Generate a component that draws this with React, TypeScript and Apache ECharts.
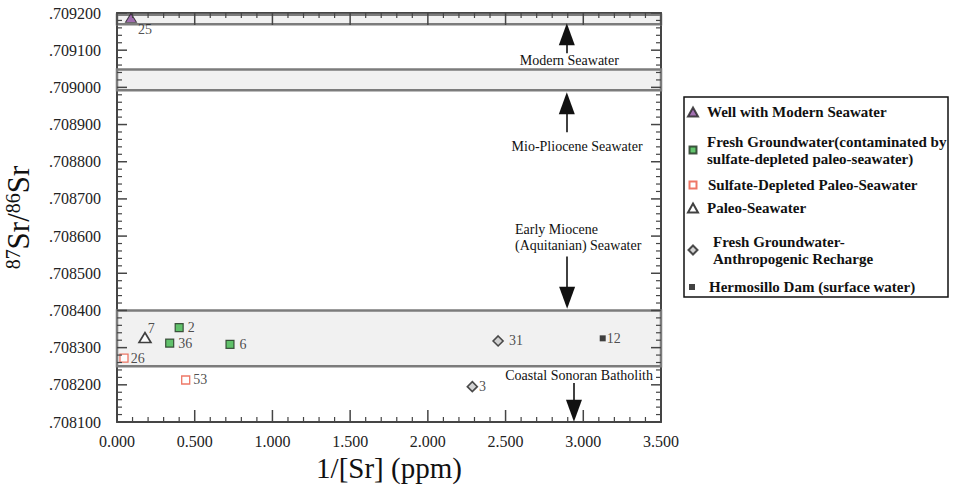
import React, { useEffect, useRef } from 'react';
import * as echarts from 'echarts';

const FONT = 'Liberation Serif';

// ---- Data ----
const wellX = [0.09];
const wellY = [0.709187];
const wellIds = ['25'];

const freshX = [0.4, 0.339, 0.727];
const freshY = [0.708354, 0.708312, 0.708309];
const freshIds = ['2', '36', '6'];

const sulfX = [0.045, 0.442];
const sulfY = [0.708272, 0.708213];
const sulfIds = ['26', '53'];

const paleoX = [0.18];
const paleoY = [0.708327];
const paleoIds = ['7'];

const anthX = [2.452, 2.286];
const anthY = [0.708318, 0.708195];
const anthIds = ['31', '3'];

const damX = [3.125];
const damY = [0.708325];
const damIds = ['12'];

// Reference bands (87Sr/86Sr ranges)
const bandLow = [0.70917, 0.708992, 0.70825];
const bandHigh = [0.709195, 0.709048, 0.7084];

// Annotation arrows (x, from y, to y)
const arrowX = [2.894, 2.894, 2.896, 2.94];
const arrowFrom = [0.709092, 0.708879, 0.708545, 0.708205];
const arrowTo = [0.709143, 0.708957, 0.708434, 0.70813];

// Annotation texts
const noteText = ['Modern Seawater', 'Mio-Pliocene Seawater', 'Early Miocene\n(Aquitanian) Seawater', 'Coastal Sonoran Batholith'];
const noteX = [2.91, 2.96, 2.561, 2.973];
const noteY = [0.709071, 0.708842, 0.708596, 0.708224];
const noteAlign = ['center', 'center', 'left', 'center'];

const seriesNames = [
  'Well with Modern Seawater',
  'Fresh Groundwater(contaminated by sulfate-depleted paleo-seawater)',
  'Sulfate-Depleted Paleo-Seawater',
  'Paleo-Seawater',
  'Fresh Groundwater-Anthropogenic Recharge',
  'Hermosillo Dam (surface water)',
];
const legendLines: Record<string, string> = {
  'Fresh Groundwater(contaminated by sulfate-depleted paleo-seawater)': 'Fresh Groundwater(contaminated by\nsulfate-depleted paleo-seawater)',
  'Fresh Groundwater-Anthropogenic Recharge': 'Fresh Groundwater-\nAnthropogenic Recharge',
};

// label placement styles per sample id
const labelPlace: Record<string, any> = {
  '25': { position: 'right', distance: 1, offset: [0, 12] },
  '7': { position: 'right', distance: 0, offset: [-4, -9] },
  '2': { position: 'right', distance: 4 },
  '36': { position: 'right', distance: 4 },
  '6': { position: 'right', distance: 5 },
  '26': { position: 'right', distance: 2 },
  '53': { position: 'right', distance: 3 },
  '31': { position: 'right', distance: 5 },
  '3': { position: 'right', distance: 1 },
  '12': { position: 'right', distance: 1 },
};

function pts(xs: number[], ys: number[], ids: string[]) {
  return xs.map((x, i) => ({
    value: [x, ys[i]],
    name: ids[i],
    label: { show: true, formatter: '{b}', fontFamily: FONT, fontSize: 14, color: '#222', ...labelPlace[ids[i]] },
  }));
}

const AXIS_COLOR = '#454545';
const GRID = { left: 117, right: 292, top: 13, bottom: 67 };

const X_RANGE = { min: 0, max: 3.5, interval: 0.5 };
const Y_RANGE = { min: 0.7081, max: 0.7092, interval: 0.0001 };
const MINOR_SPLIT = 5;

// tick positions (major every interval, 4 minor ticks between)
const xTicks: number[][] = [];
for (let i = 0; i <= Math.round((X_RANGE.max - X_RANGE.min) / X_RANGE.interval) * MINOR_SPLIT; i++) {
  xTicks.push([X_RANGE.min + (i * X_RANGE.interval) / MINOR_SPLIT, Y_RANGE.min, i % MINOR_SPLIT === 0 ? 1 : 0]);
}
const yTicks: number[][] = [];
for (let i = 0; i <= Math.round((Y_RANGE.max - Y_RANGE.min) / Y_RANGE.interval) * MINOR_SPLIT; i++) {
  yTicks.push([X_RANGE.min, Y_RANGE.min + (i * Y_RANGE.interval) / MINOR_SPLIT, i % MINOR_SPLIT === 0 ? 1 : 0]);
}

function xAxisCfg(pos: 'bottom' | 'top', main: boolean) {
  return {
    type: 'value',
    ...X_RANGE,
    position: pos,
    axisLine: { show: true, onZero: false, lineStyle: { color: AXIS_COLOR, width: 2 } },
    axisTick: { show: false },
    splitLine: { show: false },
    axisLabel: main
      ? { show: true, margin: 11, fontFamily: FONT, fontSize: 16, color: '#222', formatter: (v: number) => v.toFixed(3) }
      : { show: false },
    ...(main
      ? {
          name: '1/[Sr] (ppm)',
          nameLocation: 'middle',
          nameGap: 31,
          nameTextStyle: { fontFamily: FONT, fontSize: 29, color: '#111' },
        }
      : {}),
  };
}

function yAxisCfg(pos: 'left' | 'right', main: boolean) {
  return {
    type: 'value',
    ...Y_RANGE,
    position: pos,
    axisLine: { show: true, onZero: false, lineStyle: { color: AXIS_COLOR, width: 2 } },
    axisTick: { show: false },
    splitLine: { show: false },
    axisLabel: main
      ? { show: true, margin: 16, fontFamily: FONT, fontSize: 16, color: '#222', formatter: (v: number) => v.toFixed(6).slice(1) }
      : { show: false },
    ...(main
      ? {
          name: '{sup|87}{b|Sr/}{sup|86}{b|Sr}',
          nameLocation: 'middle',
          nameRotate: 90,
          nameGap: 83,
          nameTextStyle: {
            fontFamily: FONT,
            color: '#111',
            rich: {
              b: { fontFamily: FONT, fontSize: 31, color: '#111' },
              sup: { fontFamily: FONT, fontSize: 20, color: '#111', verticalAlign: 'top' },
            },
          },
        }
      : {}),
  };
}

const legendPos = [
  { top: 103.5, w: 10, h: 9, icon: 'triangle', pad: 4 },
  { top: 133, w: 7, h: 7, icon: 'rect', pad: 5.5 },
  { top: 176.5, w: 7, h: 7, icon: 'rect', pad: 6.5 },
  { top: 199.5, w: 10, h: 9, icon: 'triangle', pad: 4 },
  { top: 233, w: 9, h: 9, icon: 'diamond', pad: 10.5 },
  { top: 278.5, w: 6, h: 6, icon: 'rect', pad: 9 },
];

export default function App() {
  const ref = useRef<HTMLDivElement>(null);
  useEffect(() => {
    if (!ref.current) return;
    const chart = echarts.init(ref.current, null, { renderer: 'svg' });
    const seriesStyles = [
      { symbol: 'triangle', symbolSize: [11, 9], itemStyle: { color: '#8b4c9e', borderColor: '#222', borderWidth: 1 } },
      { symbol: 'rect', symbolSize: 8, itemStyle: { color: '#3db54a', borderColor: '#1f2f1f', borderWidth: 1.2 } },
      { symbol: 'rect', symbolSize: 8, itemStyle: { color: '#ffffff', borderColor: '#ea5540', borderWidth: 1.3 } },
      { symbol: 'triangle', symbolSize: [12, 10], itemStyle: { color: '#ffffff', borderColor: '#111', borderWidth: 1.6 } },
      { symbol: 'diamond', symbolSize: 10, itemStyle: { color: '#c8c8c8', borderColor: '#222', borderWidth: 1.6 } },
      { symbol: 'rect', symbolSize: 6, itemStyle: { color: '#111111', borderColor: '#111', borderWidth: 0 } },
    ];
    const datasets = [
      pts(wellX, wellY, wellIds),
      pts(freshX, freshY, freshIds),
      pts(sulfX, sulfY, sulfIds),
      pts(paleoX, paleoY, paleoIds),
      pts(anthX, anthY, anthIds),
      pts(damX, damY, damIds),
    ];

    const scatterSeries = seriesNames.map((name, i) => ({
      type: 'scatter',
      name,
      xAxisIndex: 0,
      yAxisIndex: 0,
      z: 3,
      ...seriesStyles[i],
      data: datasets[i],
    }));

    // inward-pointing ticks on all four sides of the frame
    const xTickSeries = {
      type: 'custom',
      name: '__xticks',
      xAxisIndex: 0,
      yAxisIndex: 0,
      silent: true,
      z: 4,
      clip: false,
      data: xTicks,
      renderItem: (_params: any, api: any) => {
        const v = api.value(0);
        const major = api.value(2) === 1;
        const len = major ? 12 : 5;
        const b = api.coord([v, Y_RANGE.min]);
        const t = api.coord([v, Y_RANGE.max]);
        const style = { stroke: AXIS_COLOR, lineWidth: major ? 1.5 : 1.2 };
        return {
          type: 'group',
          children: [
            { type: 'line', shape: { x1: b[0], y1: b[1], x2: b[0], y2: b[1] - len }, style },
            { type: 'line', shape: { x1: t[0], y1: t[1], x2: t[0], y2: t[1] + len }, style },
          ],
        };
      },
    };
    const yTickSeries = {
      type: 'custom',
      name: '__yticks',
      xAxisIndex: 0,
      yAxisIndex: 0,
      silent: true,
      z: 4,
      clip: false,
      data: yTicks,
      renderItem: (_params: any, api: any) => {
        const v = api.value(1);
        const major = api.value(2) === 1;
        const len = major ? 10 : 5;
        const l = api.coord([X_RANGE.min, v]);
        const r = api.coord([X_RANGE.max, v]);
        const style = { stroke: AXIS_COLOR, lineWidth: major ? 1.5 : 1.2 };
        return {
          type: 'group',
          children: [
            { type: 'line', shape: { x1: l[0], y1: l[1], x2: l[0] + len, y2: l[1] }, style },
            { type: 'line', shape: { x1: r[0], y1: r[1], x2: r[0] - len, y2: r[1] }, style },
          ],
        };
      },
    };

    const notesSeries = {
      type: 'scatter',
      name: '__notes',
      xAxisIndex: 0,
      yAxisIndex: 0,
      silent: true,
      z: 1,
      data: [],
      markArea: {
        silent: true,
        itemStyle: { color: '#f1f1f1', borderColor: '#7c7c7c', borderWidth: 2.5 },
        label: { show: false },
        data: bandLow.map((lo, i) => [{ yAxis: lo }, { yAxis: bandHigh[i] }]),
      },
      markLine: {
        silent: true,
        symbol: ['none', 'triangle'],
        symbolSize: [16, 22],
        lineStyle: { color: '#111', width: 1.6, type: 'solid' },
        label: { show: false },
        data: arrowX.map((x, i) => [{ coord: [x, arrowFrom[i]] }, { coord: [x, arrowTo[i]] }]),
      },
      markPoint: {
        silent: true,
        symbol: 'rect',
        symbolSize: 1,
        itemStyle: { color: 'rgba(0,0,0,0)' },
        data: noteText.map((t, i) => ({
          coord: [noteX[i], noteY[i]],
          value: 0,
          label: {
            show: true,
            position: 'inside',
            formatter: t,
            align: noteAlign[i],
            verticalAlign: 'middle',
            fontFamily: FONT,
            fontSize: 14,
            lineHeight: 16,
            color: '#111',
          },
        })),
      },
    };

    const legends = seriesNames.map((name, i) => {
      const lp = legendPos[i];
      return {
        show: true,
        orient: 'vertical',
        left: 692 - lp.w / 2,
        top: lp.top,
        padding: 0,
        itemWidth: lp.w,
        itemHeight: lp.h,
        selectedMode: false,
        data: [{ name, icon: lp.icon }],
        formatter: (n: string) => legendLines[n] || n,
        textStyle: {
          fontFamily: FONT,
          fontSize: 15,
          fontWeight: 'bold',
          color: '#111',
          lineHeight: 17,
          padding: [0, 0, 0, lp.pad],
        },
      };
    });

    chart.setOption({
      animation: false,
      backgroundColor: '#ffffff',
      grid: { ...GRID, containLabel: false, outerBoundsMode: 'none' },
      xAxis: [xAxisCfg('bottom', true), xAxisCfg('top', false)],
      yAxis: [yAxisCfg('left', true), yAxisCfg('right', false)],
      legend: legends,
      graphic: [
        {
          type: 'rect',
          shape: { x: 684, y: 97, width: 264, height: 200 },
          style: { fill: 'none', stroke: '#111', lineWidth: 1.5 },
          silent: true,
        },
      ],
      series: [notesSeries, xTickSeries, yTickSeries, ...scatterSeries],
    });
    return () => chart.dispose();
  }, []);
  return <div ref={ref} style={{ width: 953, height: 489, position: 'absolute', left: 0, top: 0 }} />;
}
